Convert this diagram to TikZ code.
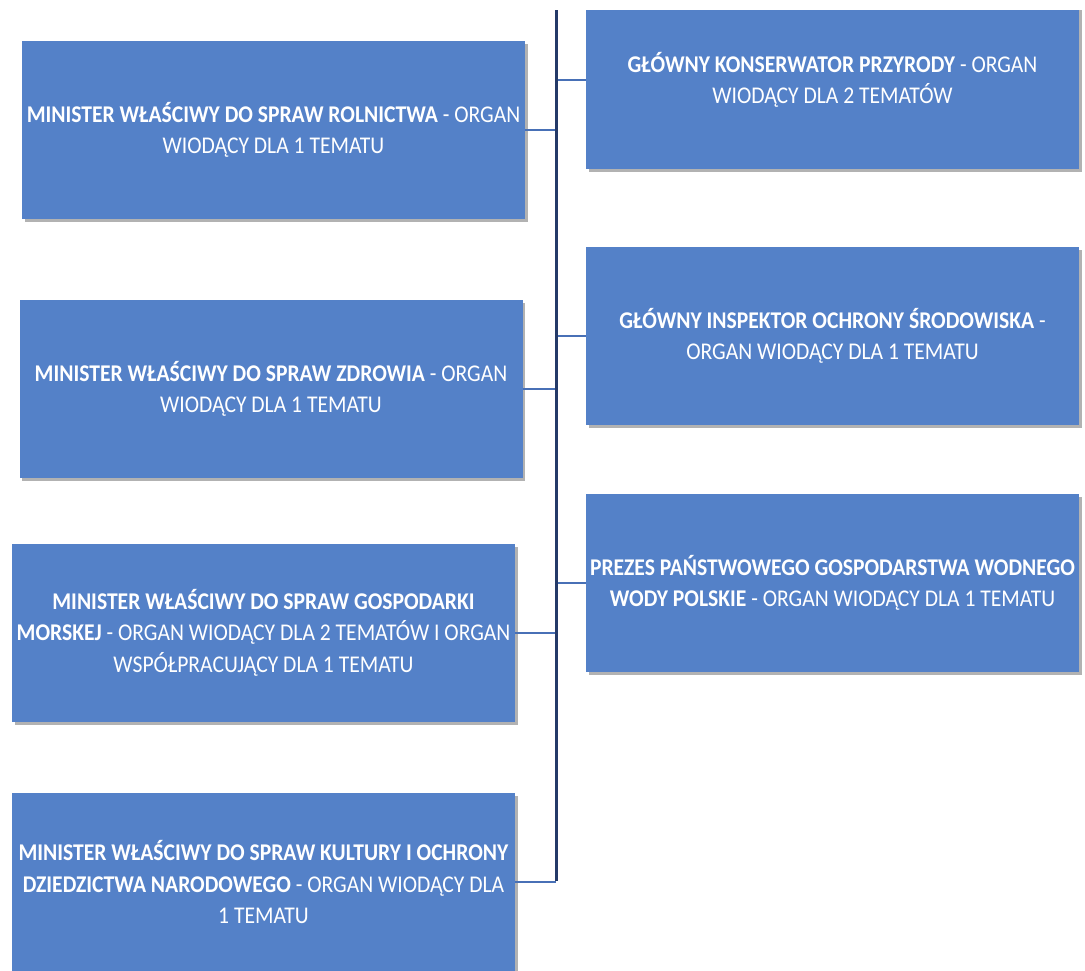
\documentclass[tikz,border=0pt]{standalone}
\usepackage{fontspec}
\setmainfont[FakeStretch=0.9]{Carlito}
\usetikzlibrary{shadows}
\definecolor{boxblue}{RGB}{84,129,200}
\definecolor{connblue}{RGB}{72,112,182}
\definecolor{spinenavy}{RGB}{36,58,104}
\tikzset{
  orgbox/.style={rectangle, fill=boxblue, draw=none, inner sep=0pt,
    minimum width=503pt, minimum height=178pt, text=white, align=center,
    font=\fontsize{24}{31.5}\selectfont,
    drop shadow={shadow xshift=2.5pt, shadow yshift=-3pt, opacity=0.3, fill=black}},
  rbox/.style={orgbox, minimum width=493pt},
  conn/.style={draw=connblue, line width=2pt},
  spine/.style={draw=spinenavy, line width=3pt}
}
\begin{document}
\begin{tikzpicture}[x=1pt,y=-1pt]
\useasboundingbox (0,0) rectangle (1085,970);
\fill[white] (0,0) rectangle (1085,970);
\clip (0,10) rectangle (1085,975);
\coordinate (top) at (556,10);
\coordinate (bot) at (556,881);
% left column
\node[orgbox] (L1) at (273.5,130) {\textbf{MINISTER WŁAŚCIWY DO SPRAW ROLNICTWA} - ORGAN\\WIODĄCY DLA 1 TEMATU};
\node[orgbox] (L2) at (271,389) {\textbf{MINISTER WŁAŚCIWY DO SPRAW ZDROWIA} - ORGAN\\WIODĄCY DLA 1 TEMATU};
\node[orgbox] (L3) at (263.5,632.5) {\textbf{MINISTER WŁAŚCIWY DO SPRAW GOSPODARKI}\\\textbf{MORSKEJ} - ORGAN WIODĄCY DLA 2 TEMATÓW I ORGAN\\WSPÓŁPRACUJĄCY DLA 1 TEMATU};
\node[orgbox] (L4) at (263.5,882) {\textbf{MINISTER WŁAŚCIWY DO SPRAW KULTURY I OCHRONY}\\\textbf{DZIEDZICTWA NARODOWEGO} - ORGAN WIODĄCY DLA\\1 TEMATU};
% right column
\node[rbox] (R1) at (832.5,80) {\textbf{GŁÓWNY KONSERWATOR PRZYRODY} - ORGAN\\WIODĄCY DLA 2 TEMATÓW};
\node[rbox] (R2) at (832.5,336) {\textbf{GŁÓWNY INSPEKTOR OCHRONY ŚRODOWISKA} -\\ORGAN WIODĄCY DLA 1 TEMATU};
\node[rbox] (R3) at (832.5,583) {\textbf{PREZES PAŃSTWOWEGO GOSPODARSTWA WODNEGO}\\\textbf{WODY POLSKIE} - ORGAN WIODĄCY DLA 1 TEMATU};
% connectors
\draw[conn] (L1.east) -- (L1.east -| top);
\draw[conn] (L2.east) -- (L2.east -| top);
\draw[conn] (L3.east) -- (L3.east -| top);
\draw[conn] (L4.east) -- (L4.east -| top);
\draw[conn] (R1.west) -- (R1.west -| top);
\draw[conn] (R2.west) -- (R2.west -| top);
\draw[conn] (R3.west) -- (R3.west -| top);
\draw[spine] (top) -- (bot);
\end{tikzpicture}
\end{document}
